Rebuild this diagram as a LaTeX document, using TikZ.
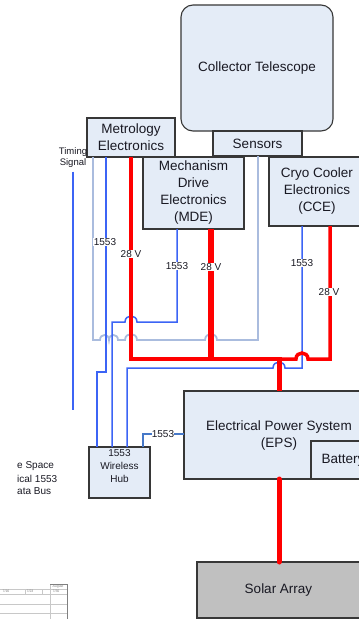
\documentclass[tikz,border=0pt]{standalone}
\usepackage{fontspec}
\setmainfont{Liberation Sans}
\definecolor{boxfill}{RGB}{228,236,247}
\definecolor{boxline}{RGB}{55,55,55}
\definecolor{txt}{RGB}{25,25,35}
\definecolor{bus}{RGB}{60,100,245}
\definecolor{hubln}{RGB}{70,120,200}
\definecolor{grayln}{RGB}{170,188,222}
\definecolor{pwr}{RGB}{255,0,0}
\definecolor{solfill}{RGB}{192,192,192}
\definecolor{tblln}{RGB}{200,200,200}
\begin{document}
\begin{tikzpicture}[x=1pt,y=-1pt,
  box/.style={draw=boxline,fill=boxfill,line width=1.1pt,inner sep=0pt,outer sep=0pt,align=center,text=txt,font=\fontsize{13.5}{17}\selectfont},
  lbl/.style={fill=white,inner sep=0.8pt,text=txt,font=\fontsize{10}{12}\selectfont},
  note/.style={inner sep=0pt,text=txt,font=\fontsize{10}{11.5}\selectfont},
  busthick/.style={draw=bus,line width=2.2pt},
  busthin/.style={draw=bus,line width=1.5pt},
  sensln/.style={draw=grayln,line width=1.8pt},
  pwrln/.style={draw=pwr,line width=#1},
  tbl/.style={draw=tblln,line width=0.5pt},
  tbltxt/.style={inner sep=0pt,text=gray,font=\fontsize{3.5}{4}\selectfont}]
\fill[white] (0,0) rectangle (359,619);
\useasboundingbox (0,0) rectangle (359,619);

% boxes
\node[box,rounded corners=12pt,minimum width=152pt,minimum height=126pt] (tel) at (257,68) {Collector Telescope};
\node[box,minimum width=89pt,minimum height=25pt] (sens) at (257.5,143.5) {Sensors};
\node[box,minimum width=88pt,minimum height=39pt] (met) at (131,137.5) {Metrology\\Electronics};
\node[box,minimum width=101pt,minimum height=72pt] (mde) at (193.5,193) {Mechanism\\Drive\\Electronics\\(MDE)};
\node[box,minimum width=96pt,minimum height=69pt] (cce) at (317,191.5) {Cryo Cooler\\Electronics\\(CCE)};
\node[box,minimum width=190pt,minimum height=88pt] (eps) at (279,435) {Electrical Power System\\(EPS)};
\node[box,minimum width=64pt,minimum height=38pt] (bat) at (343,460) {Battery};
\node[box,fill=solfill,minimum width=163pt,minimum height=56pt] (sol) at (278.5,590) {Solar Array};
\node[box,minimum width=61pt,minimum height=51pt] (hub) at (119.5,472.5) {};
\node[inner sep=0pt,align=center,text=txt,font=\fontsize{10}{13}\selectfont] (hubtxt) at (119.5,466) {1553\\Wireless\\Hub};

% texts on the left
\node[inner sep=0pt,align=center,text=txt,font=\fontsize{9.5}{11}\selectfont] (timing) at (73,157.5) {Timing\\Signal};
\coordinate (tend) at (73,410);
\node[note,anchor=west] (ws1) at (17,466) {e Space};
\node[note,anchor=west] (ws2) at (17,479) {ical 1553};
\node[note,anchor=west] (ws3) at (17,491) {ata Bus};

% timing signal line
\draw[draw=bus,line width=1.1pt] (timing.south) ++(0,4) -- (tend);

% sensors / metrology gray loop
\draw[sensln] (93,0 |- met.south) -- (93,340) -- (100,340)
  .. controls (100,333.3) and (109,333.3) .. (109,340)
  .. controls (109,333.3) and (118,333.3) .. (118,340) -- (125,340)
  .. controls (125,332) and (137,332) .. (137,340) -- (205,340)
  .. controls (205,332) and (217,332) .. (217,340) -- (258,340) -- (258,0 |- sens.south);

% 1553 bus lines
\draw[busthick] (106,0 |- met.south) -- (106,372) -- (97,372) -- (97,0 |- hub.north);
\draw[busthin] (177,0 |- mde.south) -- (177,322) -- (137,322)
  .. controls (137,314) and (125,314) .. (125,322) -- (112,322) -- (112,0 |- hub.north);
\draw[busthin] (302,0 |- cce.south) -- (302,368) -- (285,368)
  .. controls (285,360) and (273,360) .. (273,368) -- (127,368) -- (127,0 |- hub.north);
\draw[draw=hubln,line width=2pt] (143,0 |- hub.north) -- (143,434) -- (eps.west |- 0,434);

% 28 V power lines
\draw[pwrln=4.5pt] (131,0 |- met.south) -- (131,359) -- (281,359);
\draw[pwrln=6pt] (211,0 |- mde.south) -- (211,359);
\draw[pwrln=3.5pt] (330,0 |- cce.south) -- (330,359) -- (308,359)
  .. controls (308,351) and (296,351) .. (296,359) -- (277,359);
\draw[pwrln=5pt] (279,357) -- (279,0 |- eps.north);
\draw[pwrln=5pt,line cap=round] (279,0 |- eps.south) -- (279,0 |- sol.north);

% labels
\node[lbl] (l1) at (105,242) {1553};
\node[lbl] (l2) at (131,254) {28 V};
\node[lbl] (l3) at (177,266) {1553};
\node[lbl] (l4) at (211,267) {28 V};
\node[lbl] (l5) at (302,263) {1553};
\node[lbl] (l6) at (329,292) {28 V};
\node[lbl,inner sep=0.3pt] (l7) at (163,434) {1553};

% table snippet
\draw[tbl] (0,589) -- (67,589);
\draw[tbl] (0,594) -- (67,594);
\draw[tbl] (0,604) -- (67,604);
\draw[tbl] (0,613) -- (67,613);
\draw[tbl] (50,584) -- (50,619);
\draw[tbl] (25,589) -- (25,594);
\draw[tbl] (42,589) -- (42,594);
\draw[draw=gray,line width=0.6pt] (50,584) -- (67,584);
\draw[draw=gray,line width=0.9pt] (67,584) -- (67,619);
\node[tbltxt] (t0) at (58,586.5) {August};
\node[tbltxt] (t1) at (6,591.5) {7/16};
\node[tbltxt] (t2) at (30,591.5) {7/23};
\node[tbltxt] (t3) at (56,591.5) {7/30};
\end{tikzpicture}
\end{document}
